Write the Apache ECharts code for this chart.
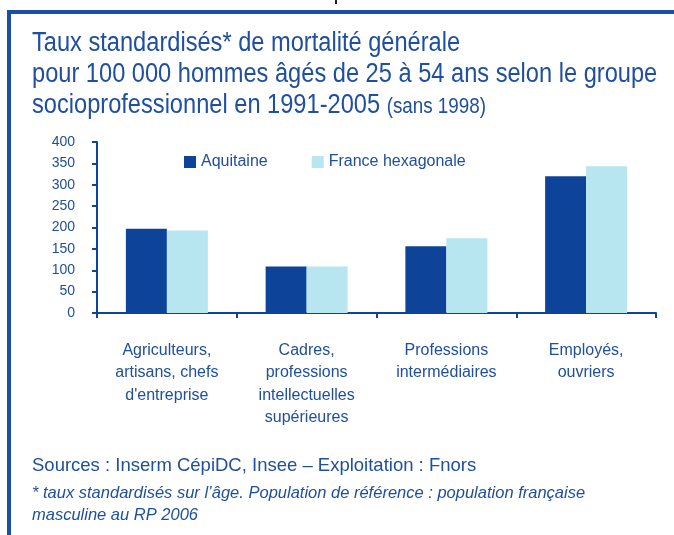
<!DOCTYPE html>
<html>
<head>
<meta charset="utf-8">
<script src="https://cdn.jsdelivr.net/npm/echarts@6/dist/echarts.min.js"></script>
<style>
html,body{margin:0;padding:0;background:#fff;}
#chart{width:674px;height:535px;}
</style>
</head>
<body>
<div id="chart"></div>
<script>
const categories = [
  "Agriculteurs,\nartisans, chefs\nd'entreprise",
  "Cadres,\nprofessions\nintellectuelles\nsupérieures",
  "Professions\nintermédiaires",
  "Employés,\nouvriers"
];
const seriesNames = ["Aquitaine", "France hexagonale"];
const aquitaine = [197, 109, 156, 320];
const franceHex = [193, 109, 175, 343];
const yTicks = [0, 50, 100, 150, 200, 250, 300, 350, 400];
const titleLines = [
  'Taux standardisés* de mortalité générale',
  'pour 100 000 hommes âgés de 25 à 54 ans selon le groupe',
  'socioprofessionnel en 1991-2005 '
];
const titleNote = '(sans 1998)';

const TXT = '#1f4fa0';
const DARK = '#0d4499';
const LIGHT = '#b7e6f1';
const REG = '"Liberation Sans", Arial, sans-serif';
const SX = 0.875;

const chart = echarts.init(document.getElementById('chart'), null, {renderer: 'canvas'});
chart.setOption({
  animation: false,
  backgroundColor: '#fff',
  legend: {
    left: 184, top: 154, padding: 0,
    itemWidth: 12, itemHeight: 12, itemGap: 44,
    icon: 'rect',
    textStyle: {fontFamily: REG, fontSize: 16, color: TXT},
    data: seriesNames
  },
  grid: {left: 97, right: 18, top: 142, bottom: 222, containLabel: false},
  xAxis: {
    type: 'category',
    data: categories,
    axisLine: {lineStyle: {color: DARK, width: 2}},
    axisTick: {show: true, length: 5, lineStyle: {color: DARK, width: 2}},
    axisLabel: {fontFamily: REG, fontSize: 16, color: TXT, lineHeight: 22.5, margin: 26, interval: 0}
  },
  yAxis: {
    type: 'value',
    min: yTicks[0], max: yTicks[yTicks.length - 1], interval: 50,
    splitLine: {show: false},
    axisLine: {show: true, lineStyle: {color: DARK, width: 2}},
    axisTick: {show: true, length: 5, lineStyle: {color: DARK, width: 2}},
    axisLabel: {fontFamily: REG, fontSize: 14, color: TXT, margin: 22}
  },
  series: [
    {name: seriesNames[0], type: 'bar', data: aquitaine, barWidth: 41, barGap: '0%', itemStyle: {color: DARK}},
    {name: seriesNames[1], type: 'bar', data: franceHex, barWidth: 41, barGap: '0%', itemStyle: {color: LIGHT}}
  ],
  graphic: [
    {type: 'rect', shape: {x: 7, y: 10, width: 667, height: 4}, style: {fill: '#1b4ea6'}, silent: true},
    {type: 'rect', shape: {x: 7, y: 10, width: 4, height: 525}, style: {fill: '#1b4ea6'}, silent: true},
    {type: 'rect', shape: {x: 335, y: 0, width: 2, height: 4}, style: {fill: '#222'}, silent: true},
    {type: 'text', x: 32, y: 43.5, scaleX: SX, style: {text: titleLines[0], font: '27px ' + REG, fill: TXT, verticalAlign: 'middle'}},
    {type: 'text', x: 32, y: 74.5, scaleX: SX, style: {text: titleLines[1], font: '27px ' + REG, fill: TXT, verticalAlign: 'middle'}},
    {type: 'text', x: 32, y: 105.5, scaleX: SX, style: {
      text: '{a|' + titleLines[2] + '}{b|' + titleNote + '}',
      verticalAlign: 'middle',
      rich: {
        a: {font: '27px ' + REG, fill: TXT, color: TXT},
        b: {font: '21.5px ' + REG, fill: TXT, color: TXT, padding: [4, 0, 0, 0]}
      }
    }},
    {type: 'text', left: 32, top: 456, style: {text: 'Sources : Inserm CépiDC, Insee – Exploitation : Fnors', font: '18.5px ' + REG, fill: TXT}},
    {type: 'text', left: 32, top: 485, style: {text: '* taux standardisés sur l’âge. Population de référence : population française', font: 'italic 16.5px ' + REG, fill: TXT}},
    {type: 'text', left: 32, top: 507, style: {text: 'masculine au RP 2006', font: 'italic 16.5px ' + REG, fill: TXT}}
  ]
});
</script>
</body>
</html>
